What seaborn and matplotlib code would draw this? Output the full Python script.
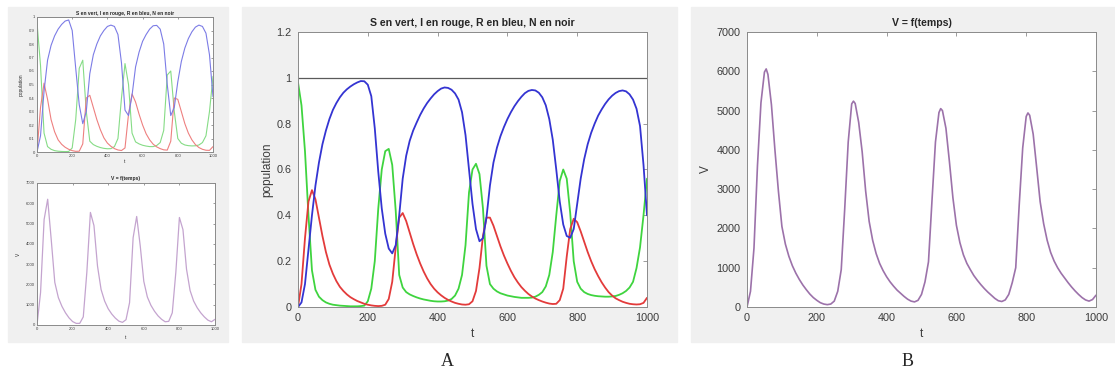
import numpy as np
import matplotlib
matplotlib.use("Agg")
import matplotlib.pyplot as plt
from matplotlib.patches import Rectangle
from matplotlib.ticker import FuncFormatter, MultipleLocator
import seaborn as sns

sns.set_style("white")
plt.rcParams['font.family'] = ['Liberation Sans', 'DejaVu Sans']

W, H = 1115, 374

# ---- panel A : S, I, R sampled every 10 time units ----
T = np.arange(0, 1001, 10)

S_A = [0.98, 0.88, 0.68, 0.40, 0.16, 0.075, 0.045, 0.03, 0.02, 0.014,
       0.01, 0.008, 0.006, 0.005, 0.004, 0.003, 0.003, 0.003, 0.004, 0.006,
       0.025, 0.08, 0.2, 0.43, 0.6, 0.68, 0.69, 0.62, 0.42, 0.14,
       0.085, 0.065, 0.055, 0.048, 0.042, 0.037, 0.033, 0.03, 0.027, 0.025,
       0.024, 0.024, 0.025, 0.028, 0.035, 0.05, 0.08, 0.14, 0.27, 0.5,
       0.6, 0.625, 0.58, 0.43, 0.18, 0.1, 0.08, 0.068, 0.06, 0.055,
       0.05, 0.047, 0.044, 0.042, 0.04, 0.04, 0.04, 0.041, 0.045, 0.053,
       0.065, 0.09, 0.14, 0.24, 0.4, 0.55, 0.6, 0.56, 0.41, 0.2,
       0.11, 0.08, 0.065, 0.057, 0.052, 0.049, 0.047, 0.046, 0.045, 0.045,
       0.046, 0.048, 0.053, 0.06, 0.07, 0.085, 0.11, 0.17, 0.26, 0.4,
       0.56]

I_A = [0.0, 0.1, 0.3, 0.46, 0.51, 0.47, 0.39, 0.31, 0.24, 0.185,
       0.145, 0.113, 0.088, 0.07, 0.055, 0.043, 0.034, 0.026, 0.02, 0.014,
       0.01, 0.007, 0.005, 0.004, 0.005, 0.01, 0.035, 0.11, 0.26, 0.39,
       0.41, 0.375, 0.325, 0.275, 0.23, 0.19, 0.155, 0.125, 0.1, 0.08,
       0.064, 0.051, 0.04, 0.031, 0.024, 0.018, 0.014, 0.011, 0.01, 0.012,
       0.025, 0.07, 0.17, 0.31, 0.39, 0.39, 0.355, 0.31, 0.265, 0.225,
       0.19, 0.158, 0.13, 0.107, 0.087, 0.071, 0.057, 0.046, 0.037, 0.03,
       0.024, 0.019, 0.015, 0.013, 0.014, 0.03, 0.08, 0.22, 0.34, 0.385,
       0.37, 0.33, 0.285, 0.24, 0.2, 0.165, 0.135, 0.108, 0.085, 0.065,
       0.05, 0.038, 0.03, 0.023, 0.018, 0.014, 0.012, 0.011, 0.012, 0.018,
       0.04]

R_A = [0.0, 0.02, 0.1, 0.25, 0.4, 0.53, 0.63, 0.71, 0.77, 0.82,
       0.86, 0.89, 0.915, 0.935, 0.95, 0.962, 0.972, 0.98, 0.986, 0.985,
       0.97, 0.92, 0.78, 0.59, 0.43, 0.32, 0.255, 0.234, 0.27, 0.4,
       0.56, 0.66, 0.725, 0.77, 0.805, 0.838, 0.866, 0.89, 0.91, 0.928,
       0.942, 0.953, 0.958, 0.956, 0.948, 0.932, 0.905, 0.85, 0.75, 0.6,
       0.45, 0.34, 0.287, 0.3, 0.39, 0.53, 0.63, 0.695, 0.745, 0.785,
       0.82, 0.85, 0.876, 0.898, 0.917, 0.933, 0.943, 0.947, 0.945, 0.935,
       0.915, 0.88, 0.82, 0.73, 0.6, 0.46, 0.36, 0.31, 0.302, 0.34,
       0.45, 0.56, 0.645, 0.71, 0.76, 0.8, 0.835, 0.862, 0.886, 0.906,
       0.922, 0.934, 0.942, 0.945, 0.941, 0.928, 0.905, 0.865, 0.79, 0.62,
       0.4]

N_A = [1.0, 1.0]
N_T = [0, 1000]

# ---- panel B : V, grid of 10 plus the four peak instants ----
V_T = [0, 10, 20, 30, 40, 50, 55, 60, 70, 80, 90,
       100, 110, 120, 130, 140, 150, 160, 170, 180, 190,
       200, 210, 220, 230, 240, 250, 260, 270, 280, 290,
       300, 305, 310, 320, 330, 340, 350, 360, 370, 380, 390,
       400, 410, 420, 430, 440, 450, 460, 470, 480, 490,
       500, 510, 520, 530, 540, 550, 555, 560, 570, 580, 590,
       600, 610, 620, 630, 640, 650, 660, 670, 680, 690,
       700, 710, 720, 730, 740, 750, 760, 770, 780, 790,
       800, 805, 810, 820, 830, 840, 850, 860, 870, 880, 890,
       900, 910, 920, 930, 940, 950, 960, 970, 980, 990, 1000]
V_B = [0, 400, 1500, 3600, 5200, 5980, 6060, 5920, 5150, 4000, 2950,
       2050, 1600, 1290, 1050, 860, 700, 560, 440, 330, 240,
       170, 110, 75, 60, 75, 150, 400, 950, 2500, 4200,
       5170, 5240, 5180, 4700, 3950, 2950, 2180, 1700, 1360, 1110, 925,
       770, 640, 530, 430, 350, 270, 200, 150, 130, 170,
       320, 640, 1150, 2700, 4200, 4950, 5050, 5000, 4550, 3700, 2780,
       2080, 1640, 1330, 1110, 950, 800, 680, 570, 470, 380,
       300, 220, 160, 140, 180, 320, 620, 1000, 2600, 4050,
       4850, 4940, 4880, 4400, 3550, 2680, 2120, 1700, 1390, 1170, 1000,
       860, 740, 620, 510, 410, 320, 240, 180, 150, 190, 300]

# ---- small left thumbnails, sampled every 20 ----
TL = np.arange(0, 1001, 20)

S_L = [0.96, 0.64, 0.14, 0.04, 0.02, 0.01, 0.006, 0.004, 0.003, 0.004,
       0.03, 0.24, 0.62, 0.68, 0.3, 0.08, 0.055, 0.042, 0.033, 0.027,
       0.024, 0.025, 0.04, 0.1, 0.4, 0.655, 0.5, 0.14, 0.075, 0.06,
       0.05, 0.044, 0.04, 0.04, 0.048, 0.07, 0.16, 0.57, 0.6, 0.3,
       0.1, 0.065, 0.052, 0.047, 0.045, 0.046, 0.052, 0.07, 0.12, 0.3,
       0.56]

I_L = [0.0, 0.33, 0.51, 0.39, 0.24, 0.15, 0.09, 0.057, 0.035, 0.02,
       0.01, 0.005, 0.006, 0.06, 0.4, 0.42, 0.33, 0.24, 0.165, 0.105,
       0.066, 0.042, 0.025, 0.015, 0.011, 0.03, 0.28, 0.43, 0.37, 0.28,
       0.2, 0.135, 0.09, 0.058, 0.038, 0.025, 0.016, 0.014, 0.08, 0.4,
       0.39, 0.3, 0.21, 0.14, 0.09, 0.055, 0.033, 0.02, 0.013, 0.012,
       0.04]

R_L = [0.0, 0.12, 0.45, 0.68, 0.79, 0.86, 0.91, 0.945, 0.97, 0.978,
       0.9, 0.62, 0.35, 0.21, 0.3, 0.58, 0.72, 0.8, 0.86, 0.9,
       0.93, 0.94, 0.93, 0.87, 0.66, 0.31, 0.27, 0.42, 0.63, 0.74,
       0.82, 0.87, 0.91, 0.935, 0.938, 0.91, 0.8, 0.5, 0.27, 0.33,
       0.52, 0.67, 0.77, 0.84, 0.89, 0.925, 0.94, 0.93, 0.88, 0.72,
       0.41]

V_L = [0, 1600, 5200, 6200, 4200, 2100, 1350, 920, 600, 350,
       170, 80, 80, 400, 2600, 5550, 4900, 2900, 1750, 1180,
       800, 540, 340, 190, 130, 260, 1100, 4300, 5350, 3900,
       2150, 1380, 970, 680, 450, 280, 160, 180, 600, 2600,
       5300, 4700, 2750, 1700, 1180, 850, 600, 400, 240, 160,
       280]

X_TICKS = [0, 200, 400, 600, 800, 1000]
TITLE_SIR = "S en vert, I en rouge, R en bleu, N en noir"
TITLE_V = "V = f(temps)"


def px_box(x0, y0, x1, y1):
    return [x0 / W, 1 - y1 / H, (x1 - x0) / W, (y1 - y0) / H]


def matlab_axes(ax, fs, tlen, pad):
    ax.set_facecolor("white")
    for s in ax.spines.values():
        s.set_color("#8a8a8a")
        s.set_linewidth(0.7)
    ax.tick_params(direction="in", top=True, right=True, length=tlen,
                   width=0.6, color="#8a8a8a", labelsize=fs,
                   labelcolor="#3c3c3c", pad=pad)
    ax.xaxis.set_major_formatter(FuncFormatter(lambda v, p: "%g" % v))
    ax.yaxis.set_major_formatter(FuncFormatter(lambda v, p: "%g" % round(v, 4)))
    ax.set_xlim(0, 1000)
    ax.set_xticks(X_TICKS)


fig = plt.figure(figsize=(W / 100, H / 100), dpi=100)
fig.patch.set_facecolor("white")

# grey window backgrounds
for (x0, y0, x1, y1) in [(8, 7, 228, 342), (242, 7, 677, 342), (691, 7, 1115, 342)]:
    fig.add_artist(Rectangle((x0 / W, 1 - y1 / H), (x1 - x0) / W, (y1 - y0) / H,
                             transform=fig.transFigure, color="#f0f0f0", zorder=0))

# --- small thumbnail, top ---
ax1 = fig.add_axes(px_box(37, 17, 213, 152))
matlab_axes(ax1, 3, 1.5, 1.5)
sns.lineplot(x=TL, y=S_L, ax=ax1, color="#86dc86", lw=0.8)
sns.lineplot(x=TL, y=I_L, ax=ax1, color="#ee8080", lw=0.8)
sns.lineplot(x=TL, y=R_L, ax=ax1, color="#7c7ce6", lw=0.8)
sns.lineplot(x=N_T, y=N_A, ax=ax1, color="#777777", lw=0.6)
ax1.set_ylim(0, 1)
ax1.yaxis.set_major_locator(MultipleLocator(0.1))
ax1.set_title(TITLE_SIR, fontsize=3.6, fontweight="bold", pad=1.5)
ax1.set_ylabel("population", fontsize=3.4)
ax1.set_xlabel("t", fontsize=3.4)
ax1.yaxis.set_label_coords(-0.075, 0.5)
ax1.xaxis.set_label_coords(0.5, -0.055)

# --- small thumbnail, bottom ---
ax2 = fig.add_axes(px_box(37, 183, 215, 325))
matlab_axes(ax2, 3, 1.5, 1.5)
sns.lineplot(x=TL, y=V_L, ax=ax2, color="#c4a4cf", lw=0.9)
ax2.set_ylim(0, 7000)
ax2.set_yticks(range(0, 7001, 1000))
ax2.set_title(TITLE_V, fontsize=3.6, fontweight="bold", pad=2)
ax2.set_ylabel("V", fontsize=3.4)
ax2.set_xlabel("t", fontsize=3.4)
ax2.yaxis.set_label_coords(-0.09, 0.5)
ax2.xaxis.set_label_coords(0.5, -0.07)

# --- panel A ---
axA = fig.add_axes(px_box(298, 32, 647, 307))
matlab_axes(axA, 7.8, 3, 4.5)
sns.lineplot(x=N_T, y=N_A, ax=axA, color="#5a5a5a", lw=0.9)
sns.lineplot(x=T, y=S_A, ax=axA, color="#3fd43f", lw=1.3)
sns.lineplot(x=T, y=I_A, ax=axA, color="#e33b3b", lw=1.3)
sns.lineplot(x=T, y=R_A, ax=axA, color="#3434d2", lw=1.3)
axA.set_ylim(0, 1.2)
axA.set_yticks([0, 0.2, 0.4, 0.6, 0.8, 1.0, 1.2])
axA.set_title(TITLE_SIR, fontsize=7.6, fontweight="bold", pad=4)
axA.set_ylabel("population", fontsize=8.5, color="#3c3c3c")
axA.set_xlabel("t", fontsize=8.5, color="#3c3c3c")
axA.yaxis.set_label_coords(-0.07, 0.5)
axA.xaxis.set_label_coords(0.5, -0.075)

# --- panel B ---
axB = fig.add_axes(px_box(747, 32, 1096, 307))
matlab_axes(axB, 7.8, 3, 4.5)
sns.lineplot(x=V_T, y=V_B, ax=axB, color="#9c72aa", lw=1.2)
axB.set_ylim(0, 7000)
axB.set_yticks(range(0, 7001, 1000))
axB.set_title(TITLE_V, fontsize=7.6, fontweight="bold", pad=4)
axB.set_ylabel("V", fontsize=8.5, color="#3c3c3c")
axB.set_xlabel("t", fontsize=8.5, color="#3c3c3c")
axB.yaxis.set_label_coords(-0.1, 0.5)
axB.xaxis.set_label_coords(0.5, -0.075)

# sub-figure letters
fig.text(447 / W, 1 - 361 / H, "A", fontsize=13, family=["Liberation Serif", "DejaVu Serif"],
         ha="center", va="center")
fig.text(908 / W, 1 - 361 / H, "B", fontsize=13, family=["Liberation Serif", "DejaVu Serif"],
         ha="center", va="center")

fig.savefig("out.png", dpi=100, facecolor="white")
